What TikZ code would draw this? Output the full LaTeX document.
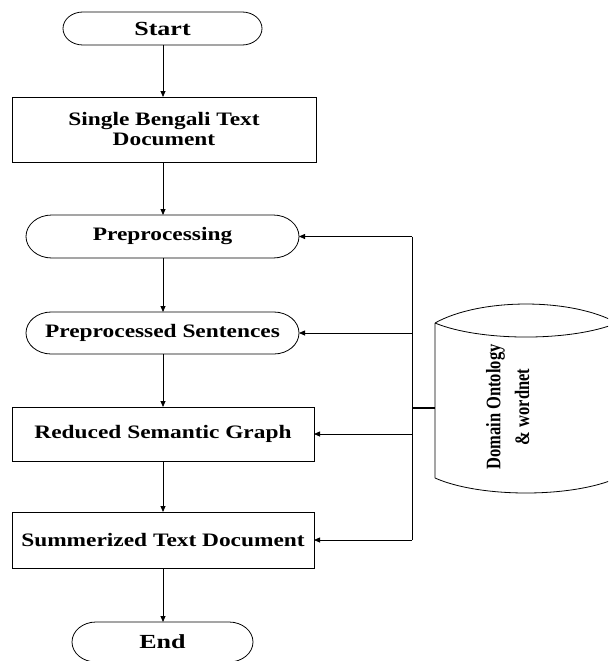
\documentclass[tikz,border=0pt]{standalone}
\usepackage{fontspec}
\setmainfont{Liberation Serif}
\usepackage{graphicx}
\usetikzlibrary{arrows.meta,calc}
\newcommand{\hs}[2]{\scalebox{#1}[1]{#2}}
\begin{document}
\begin{tikzpicture}[x=1pt,y=1pt,
  base/.style={inner sep=0pt,outer sep=0pt,align=center,
    font=\bfseries\fontsize{19}{20}\selectfont},
  rectbox/.style={base,draw=black,line width=0.8pt},
  stadium/.style={base},
  shapeline/.style={draw=black,line width=0.8pt},
  arr/.style={draw=black,line width=0.8pt,-{Triangle[length=6pt,width=5pt]}},
  link/.style={draw=black,line width=0.8pt},
  joinline/.style={draw=black,line width=1.6pt}]
\useasboundingbox (0,0) rectangle (608,-661);
\clip (0,0) rectangle (608,-661);

% nodes
\node[stadium,minimum width=199pt,minimum height=33pt,font=\bfseries\fontsize{20}{22}\selectfont] (start) at (162.5,-28.5) {\hs{1.3}{Start}};
\node[rectbox,minimum width=304pt,minimum height=65pt] (doc) at (164,-129.5)
  {\hs{1.23}{Single Bengali Text}\\\hs{1.23}{Document}};
\node[stadium,minimum width=273pt,minimum height=43pt] (pre) at (162.5,-236.5) {\hs{1.23}{Preprocessing}};
\node[stadium,minimum width=273pt,minimum height=42pt] (pres) at (162.5,-333) {\hs{1.23}{Preprocessed Sentences}};
\node[rectbox,minimum width=302pt,minimum height=54pt] (rsg) at (163,-434) {\hs{1.23}{Reduced Semantic Graph}};
\node[rectbox,minimum width=302pt,minimum height=56pt] (sum) at (163,-540) {\hs{1.23}{Summerized Text Document}};
\node[stadium,minimum width=181pt,minimum height=40pt,font=\bfseries\fontsize{20}{22}\selectfont] (endn) at (162.5,-642) {\hs{1.3}{End}};

% stadium outlines
\foreach \nd in {start,pre,pres,endn}{
  \draw[shapeline] let \p1=(\nd.north west), \p2=(\nd.south east),
      \n1={(\y1-\y2)/2}, \n2={1.2*(\y1-\y2)/2} in
    (\x1+\n2,\y1) -- (\x2-\n2,\y1)
    arc[start angle=90,end angle=-90,x radius=\n2,y radius=\n1]
    -- (\x1+\n2,\y2)
    arc[start angle=-90,end angle=-270,x radius=\n2,y radius=\n1] -- cycle;
}

% database (cylinder)
\node[inner sep=0pt,outer sep=0pt,minimum width=182pt,minimum height=155pt] (db) at (526,-400.5) {};
\draw[shapeline] (db.north west) .. controls (480,-297.7) and (572,-297.7) .. (db.north east)
  (db.north west) .. controls (480,-341.7) and (572,-341.7) .. (db.north east)
  (db.north west) -- (db.south west)
  (db.north east) -- (db.south east)
  (db.south west) .. controls (480,-498) and (572,-498) .. (db.south east);
\node[inner sep=0pt,rotate=90,font=\bfseries\fontsize{16.5}{23}\selectfont] (dbtext) at (509,-407)
  {\scalebox{1}[1.25]{\begin{tabular}{@{}c@{}}Domain Ontology\\\& wordnet\end{tabular}}};

% main flow
\draw[arr] (start.south -| 163,0) -- (doc.north -| 163,0);
\draw[arr] (doc.south -| 163,0) -- (pre.north -| 163,0);
\draw[arr] (pre.south -| 163,0) -- (pres.north -| 163,0);
\draw[arr] (pres.south -| 163,0) -- (rsg.north -| 163,0);
\draw[arr] (rsg.south -| 163,0) -- (sum.north -| 163,0);
\draw[arr] (sum.south -| 163,0) -- (endn.north -| 163,0);

% bus
\coordinate (bustop) at (412,-236.5);
\coordinate (busbot) at (412,-540);
\coordinate (jn) at (412,-408);
\draw[link] (bustop) -- (busbot);
\draw[joinline] (jn) -- (jn -| db.west);
\draw[arr] (bustop) -- (pre.east);
\draw[arr] (pres.east -| bustop) -- (pres.east);
\draw[arr] (rsg.east -| bustop) -- (rsg.east);
\draw[arr] (busbot) -- (sum.east);
\end{tikzpicture}
\end{document}
